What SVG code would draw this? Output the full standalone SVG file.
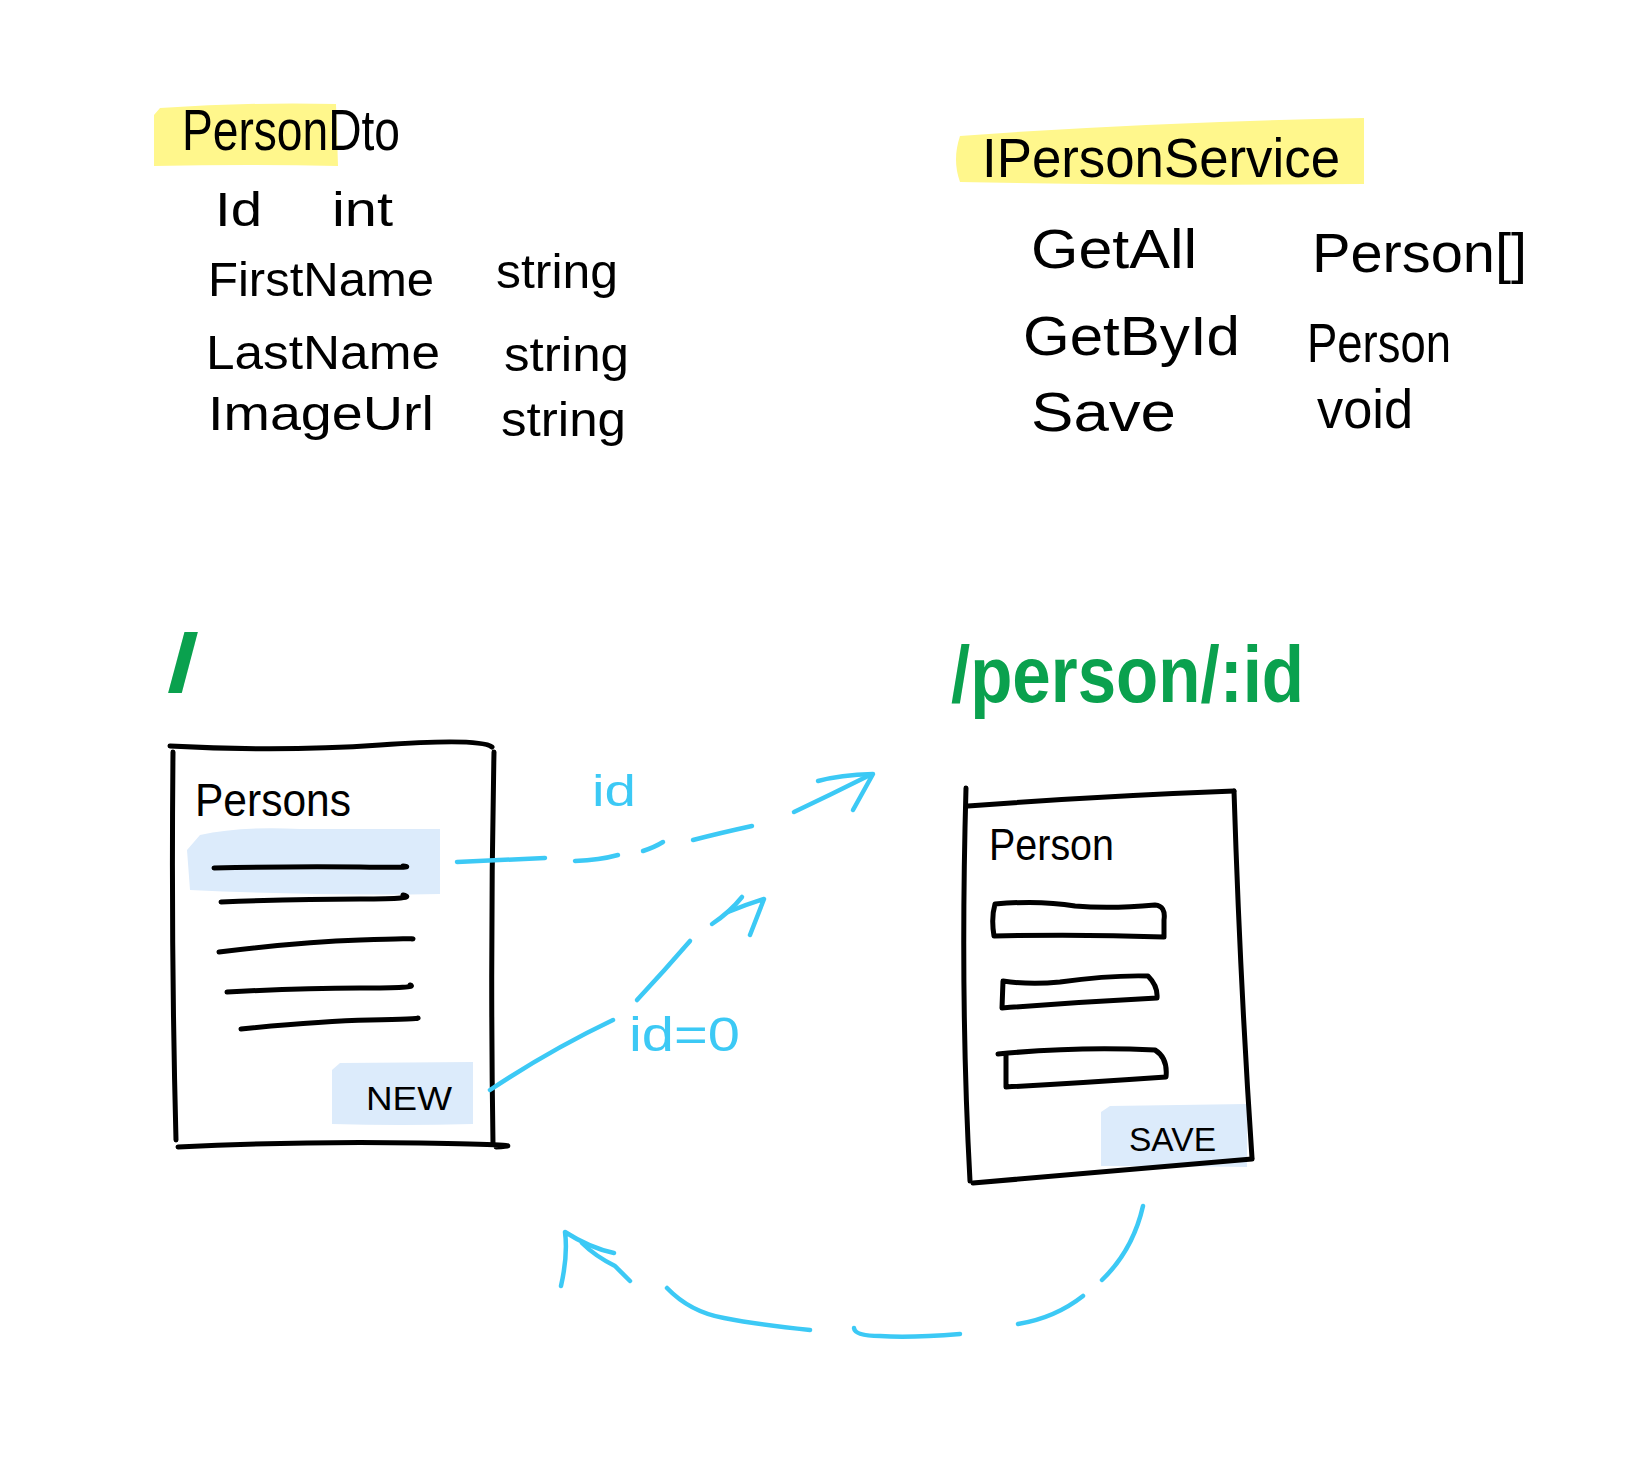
<svg xmlns="http://www.w3.org/2000/svg" width="1629" height="1463" viewBox="0 0 1629 1463">
<style>
.hand{font-family:"Liberation Sans","DejaVu Sans",sans-serif;fill:#000}
.ink{fill:none;stroke:#000;stroke-width:5;stroke-linecap:round;stroke-linejoin:round}
.blue{fill:none;stroke:#3cc9f5;stroke-width:4.5;stroke-linecap:round;stroke-linejoin:round}
.btext{font-family:"Liberation Sans","DejaVu Sans",sans-serif;fill:#3cc9f5}
.green{font-family:"Liberation Sans","DejaVu Sans",sans-serif;fill:#0aa14e;font-weight:bold}
.yellow{fill:#fff78c}
.lblue{fill:#dcebfb}
</style>
<rect width="1629" height="1463" fill="#fff"/>

<g id="persondto">
  <path class="yellow" d="M160,108 Q250,102 336,104 L338,166 Q250,164 154,166 L154,115 Z"/>
  <text class="hand" x="182" y="150" font-size="58" textLength="218" lengthAdjust="spacingAndGlyphs">PersonDto</text>
  <text class="hand" x="215" y="226" font-size="48" textLength="47" lengthAdjust="spacingAndGlyphs">Id</text>
  <text class="hand" x="332" y="226" font-size="48" textLength="61" lengthAdjust="spacingAndGlyphs">int</text>
  <text class="hand" x="208" y="296" font-size="48" textLength="226" lengthAdjust="spacingAndGlyphs">FirstName</text>
  <text class="hand" x="496" y="288" font-size="48" textLength="122" lengthAdjust="spacingAndGlyphs">string</text>
  <text class="hand" x="206" y="369" font-size="48" textLength="234" lengthAdjust="spacingAndGlyphs">LastName</text>
  <text class="hand" x="504" y="371" font-size="48" textLength="125" lengthAdjust="spacingAndGlyphs">string</text>
  <text class="hand" x="208" y="430" font-size="48" textLength="226" lengthAdjust="spacingAndGlyphs">ImageUrl</text>
  <text class="hand" x="501" y="436" font-size="48" textLength="125" lengthAdjust="spacingAndGlyphs">string</text>
</g>

<g id="ipersonservice">
  <path class="yellow" d="M960,136 Q1150,122 1364,118 L1364,184 Q1150,186 960,182 Q952,160 960,136 Z"/>
  <text class="hand" x="982" y="177" font-size="56" textLength="358" lengthAdjust="spacingAndGlyphs">IPersonService</text>
  <text class="hand" x="1031" y="268" font-size="56" textLength="166" lengthAdjust="spacingAndGlyphs">GetAll</text>
  <text class="hand" x="1312" y="272" font-size="56" textLength="215" lengthAdjust="spacingAndGlyphs">Person[]</text>
  <text class="hand" x="1023" y="355" font-size="56" textLength="217" lengthAdjust="spacingAndGlyphs">GetById</text>
  <text class="hand" x="1307" y="362" font-size="56" textLength="144" lengthAdjust="spacingAndGlyphs">Person</text>
  <text class="hand" x="1031" y="431" font-size="56" textLength="145" lengthAdjust="spacingAndGlyphs">Save</text>
  <text class="hand" x="1317" y="428" font-size="56" textLength="96" lengthAdjust="spacingAndGlyphs">void</text>
</g>

<g id="route-root">
  <text class="green" x="167" y="691" font-size="82" textLength="32" lengthAdjust="spacingAndGlyphs">/</text>
</g>

<g id="route-person">
  <text class="green" x="951" y="702" font-size="80" textLength="353" lengthAdjust="spacingAndGlyphs">/person/:id</text>
</g>

<g id="persons-screen">
  <path class="lblue" d="M200,835 Q240,826 300,829 L440,829 L440,894 Q320,896 190,890 L187,850 Z"/>
  <path class="lblue" d="M340,1063 L473,1062 L473,1124 Q400,1126 332,1124 L332,1070 Z"/>
  <path class="ink" d="M170,746 Q280,752 380,745 T492,747"/>
  <path class="ink" d="M173,752 Q171,950 176,1140"/>
  <path class="ink" d="M494,752 Q490,950 493,1144"/>
  <path class="ink" d="M178,1147 Q300,1141 420,1143 T496,1147"/>
  <text class="hand" x="195" y="816" font-size="46" textLength="156" lengthAdjust="spacingAndGlyphs">Persons</text>
  <path class="ink" d="M214,868 Q300,866 360,867 T403,866"/>
  <path class="ink" d="M221,902 Q300,899 360,899 T403,895"/>
  <path class="ink" d="M219,952 Q300,942 360,940 T412,939"/>
  <path class="ink" d="M227,992 Q300,988 360,988 T410,985"/>
  <path class="ink" d="M241,1029 Q320,1021 370,1020 T418,1018"/>
  <text class="hand" x="366" y="1110" font-size="34" textLength="86" lengthAdjust="spacingAndGlyphs">NEW</text>
</g>

<g id="person-screen">
  <path class="lblue" d="M1110,1106 L1247,1104 L1247,1167 Q1170,1166 1101,1166 L1101,1112 Z"/>
  <path class="ink" d="M968,806 Q1100,796 1234,791"/>
  <path class="ink" d="M966,788 Q960,1000 970,1181"/>
  <path class="ink" d="M1234,791 Q1240,980 1252,1158"/>
  <path class="ink" d="M973,1183 Q1110,1171 1252,1159"/>
  <text class="hand" x="989" y="860" font-size="44" textLength="125" lengthAdjust="spacingAndGlyphs">Person</text>
  <path class="ink" d="M995,904 Q1040,900 1075,906 Q1110,909 1155,905 Q1166,906 1164,920 L1164,937 Q1080,934 994,936 Q991,918 995,904 Z"/>
  <path class="ink" d="M1003,981 Q1030,985 1060,982 Q1110,975 1148,976 Q1158,986 1157,998 Q1080,1002 1002,1008 Z"/>
  <path class="ink" d="M998,1054 Q1080,1046 1155,1050 Q1168,1058 1166,1077 Q1080,1083 1006,1087 L1006,1054"/>
  <text class="hand" x="1129" y="1151" font-size="34" textLength="87" lengthAdjust="spacingAndGlyphs">SAVE</text>
</g>

<g id="connectors">
  <g id="edge-id">
    <path class="blue" d="M457,862 L545,858"/>
    <path class="blue" d="M575,861 Q600,860 618,855"/>
    <path class="blue" d="M643,851 Q655,847 663,842"/>
    <path class="blue" d="M693,840 Q720,833 752,826"/>
    <path class="blue" d="M794,812 Q830,795 868,776"/>
    <path class="blue" d="M818,781 Q840,775 873,774 L853,810"/>
  </g>
  <g id="edge-id0">
    <path class="blue" d="M490,1090 Q550,1050 613,1020"/>
    <path class="blue" d="M637,1000 Q665,970 690,941"/>
    <path class="blue" d="M712,924 Q730,912 742,897"/>
    <path class="blue" d="M728,912 Q745,905 764,899 L750,935"/>
  </g>
  <g id="edge-save">
    <path class="blue" d="M1143,1206 Q1133,1250 1102,1280"/>
    <path class="blue" d="M1083,1296 Q1055,1318 1018,1324"/>
    <path class="blue" d="M960,1334 Q910,1338 880,1336 Q855,1336 854,1328"/>
    <path class="blue" d="M810,1330 Q760,1325 724,1318 Q690,1312 667,1288"/>
    <path class="blue" d="M630,1281 L615,1266 Q595,1256 582,1243"/>
    <path class="blue" d="M561,1286 Q568,1255 565,1232 Q590,1248 614,1253"/>
  </g>
</g>

<g id="edge-labels">
  <text class="btext" x="592" y="806" font-size="44" textLength="44" lengthAdjust="spacingAndGlyphs">id</text>
  <text class="btext" x="629" y="1051" font-size="48" textLength="111" lengthAdjust="spacingAndGlyphs">id=0</text>
</g>
</svg>
